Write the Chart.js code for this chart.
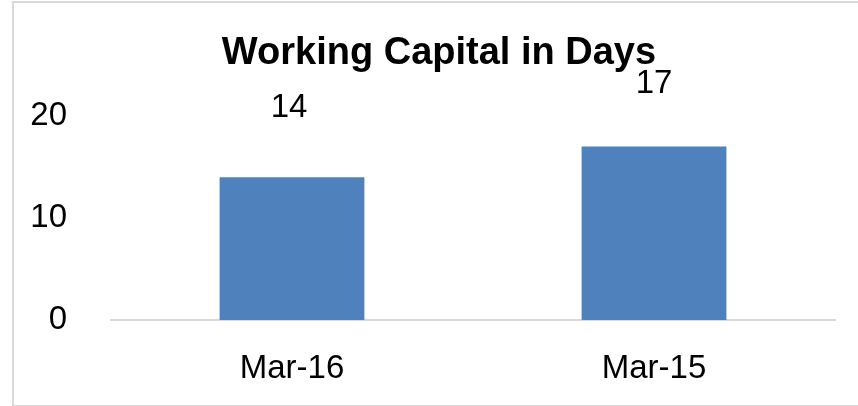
<!DOCTYPE html>
<html lang="en">
<head>
    <meta charset="UTF-8">
    <title>Working Capital in Days</title>
    <script src="https://cdn.jsdelivr.net/npm/chart.js"></script>
    <style>
        html, body {
            margin: 0;
            padding: 0;
            background: #fff;
        }
        .wrap {
            position: relative;
            width: 858px;
            height: 406px;
            overflow: hidden;
        }
        .frame {
            position: absolute;
            left: 12px;
            top: 1px;
            width: 860px;
            height: 402px;
            border: 2px solid #d9d9d9;
            border-right: none;
            pointer-events: none;
        }
        canvas {
            position: absolute;
            left: 0;
            top: 0;
        }
    </style>
</head>
<body>
    <div class="wrap">
        <canvas id="wcChart" width="858" height="406"></canvas>
        <div class="frame"></div>
    </div>

    <script>
        // 数据
        const categories = ['Mar-16', 'Mar-15'];
        const days = [14, 17];
        const yTicks = [0, 10, 20];

        const FONT = "'Liberation Sans', Arial, sans-serif";

        // 数据标签
        const valueLabels = {
            id: 'valueLabels',
            afterDatasetsDraw(chart, args, opts) {
                const ctx = chart.ctx;
                const meta = chart.getDatasetMeta(0);
                ctx.save();
                ctx.font = opts.size + 'px ' + FONT;
                ctx.fillStyle = '#000';
                ctx.textAlign = 'center';
                ctx.textBaseline = 'middle';
                meta.data.forEach((bar, i) => {
                    ctx.fillText(String(days[i]), bar.x - opts.shift[i], bar.y - opts.lift[i]);
                });
                ctx.restore();
            }
        };

        new Chart(document.getElementById('wcChart'), {
            type: 'bar',
            data: {
                labels: categories,
                datasets: [{
                    label: 'Working Capital in Days',
                    data: days,
                    backgroundColor: '#4f81bd',
                    borderWidth: 0,
                    barPercentage: 0.4,
                    categoryPercentage: 1
                }]
            },
            options: {
                responsive: false,
                animation: false,
                devicePixelRatio: 1,
                layout: {
                    padding: { left: 20, right: 0, top: 0, bottom: 0 }
                },
                plugins: {
                    legend: { display: false },
                    tooltip: { enabled: false },
                    title: {
                        display: true,
                        text: 'Working Capital in Days',
                        color: '#000',
                        font: { family: FONT, size: 38, weight: 'bold' },
                        padding: { top: 31, bottom: 39.4 }
                    },
                    valueLabels: { size: 33, lift: [69, 63], shift: [3, 0] }
                },
                scales: {
                    x: {
                        grid: { display: false, drawTicks: false, tickLength: 0 },
                        border: { display: true, color: '#d9d9d9', width: 2 },
                        ticks: {
                            color: '#000',
                            font: { family: FONT, size: 33 },
                            padding: 29
                        },
                        afterFit(scale) { scale.height = 86; }
                    },
                    y: {
                        min: yTicks[0],
                        max: yTicks[yTicks.length - 1],
                        grid: { display: false, drawTicks: false, tickLength: 0 },
                        border: { display: false },
                        afterBuildTicks(scale) {
                            scale.ticks = yTicks.map(v => ({ value: v }));
                        },
                        ticks: {
                            color: '#000',
                            font: { family: FONT, size: 33 },
                            padding: 44
                        },
                        afterFit(scale) { scale.width = 91; }
                    },
                    // 右侧留白
                    gap: {
                        type: 'linear',
                        position: 'right',
                        grid: { display: false, drawTicks: false },
                        border: { display: false },
                        ticks: { display: false },
                        afterFit(scale) { scale.width = 23; }
                    }
                }
            },
            plugins: [valueLabels]
        });
    </script>
</body>
</html>
